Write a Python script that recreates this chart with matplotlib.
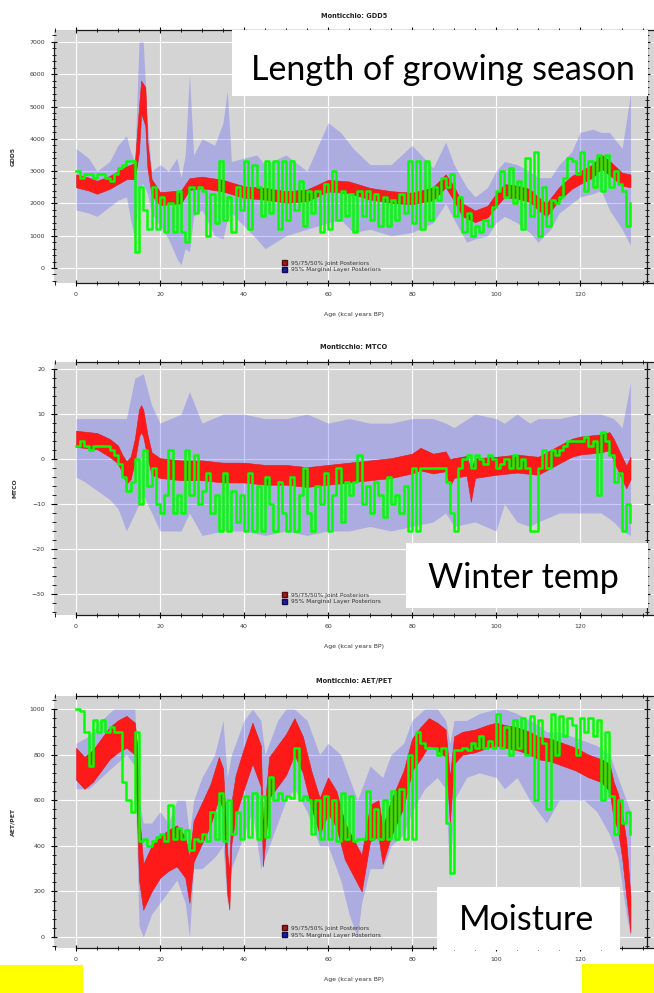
import numpy as np
import matplotlib
matplotlib.use("Agg")
import matplotlib.pyplot as plt
from matplotlib.patches import Rectangle, Patch
from matplotlib.ticker import MultipleLocator


# ---------------------------------------------------------
# GDD5 – growing degree days
# ---------------------------------------------------------
gdd_red_age = [0, 3, 5, 8, 10, 12, 14, 15, 15.5, 16.5,
               17, 18, 20, 25, 27, 30, 35, 40, 45, 50,
               55, 60, 65, 70, 75, 80, 85, 88, 90, 92,
               95, 98, 100, 102, 105, 108, 110, 112, 115, 118,
               120, 123, 125, 127, 130, 132]
gdd_red_mid = [2700, 2600, 2500, 2650, 2800, 2950, 3000, 4300, 5300, 5000,
               3500, 2500, 2150, 2200, 2600, 2650, 2550, 2350, 2300, 2200,
               2250, 2550, 2500, 2300, 2200, 2150, 2300, 2700, 2300, 1800,
               1600, 1750, 2100, 2400, 2350, 2250, 2000, 1800, 2300, 2650,
               2800, 3000, 3300, 3100, 2750, 2700]
gdd_red_hw = [200, 200, 200, 200, 200, 200, 250, 700, 500, 600,
              400, 250, 200, 200, 180, 180, 180, 180, 180, 180,
              180, 180, 180, 180, 180, 180, 200, 200, 220, 200,
              180, 180, 200, 200, 200, 200, 200, 200, 200, 200,
              200, 200, 220, 220, 200, 200]

gdd_blue_age = [0, 3, 5, 8, 10, 12, 13, 14, 15, 16,
                17, 18, 20, 22, 24, 25, 26, 27, 28, 30,
                33, 35, 36, 37, 40, 43, 45, 50, 55, 60,
                63, 66, 70, 75, 80, 85, 88, 90, 93, 95,
                98, 100, 102, 105, 108, 110, 113, 115, 118, 120,
                123, 125, 127, 130, 132]
gdd_blue_lo = [1800, 1700, 1600, 1900, 2100, 2200, 1500, 900, 2500, 2600,
               2300, 1700, 1300, 900, 300, 100, 600, 500, 1600, 1800,
               1000, 900, 1500, 1700, 1300, 900, 600, 1000, 1200, 1400,
               1500, 1100, 1200, 1000, 1100, 1400, 2000, 1500, 800, 900,
               1000, 1400, 1600, 1400, 1100, 800, 1200, 1700, 2000, 2200,
               2300, 2400, 1800, 1200, 700]
gdd_blue_hi = [3700, 3400, 3000, 3300, 3800, 4100, 3600, 3300, 7000, 7000,
               4500, 3000, 3200, 3000, 3400, 2800, 3500, 6000, 3500, 4000,
               3800, 4500, 5500, 3300, 3400, 3500, 3200, 3500, 3000, 4500,
               4200, 3700, 3200, 3200, 3800, 3100, 3900, 3200, 2500, 2200,
               2500, 3000, 3300, 3200, 3000, 2800, 2800, 3200, 3600, 4200,
               4300, 4200, 4200, 3700, 5400]

# pollen based reconstruction, one value per kyr (0..132)
gdd_green = [3000, 2800, 2900, 2900, 2800, 2900, 2900, 2800, 2700, 2900,
             3100, 3200, 3300, 3300, 500, 2500, 1800, 1200, 2500, 1200,
             2200, 1100, 2000, 1100, 2400, 1100, 800, 2500, 1700, 2500,
             2400, 1000, 2300, 1400, 3300, 1500, 2200, 1100, 2500, 1800,
             3300, 1200, 3200, 2500, 1600, 3300, 1700, 3300, 1200, 3300,
             1500, 3300, 1800, 2700, 1300, 2400, 1700, 2400, 1100, 2600,
             1200, 3000, 1500, 2400, 1600, 2300, 1100, 2400, 1600, 2400,
             1500, 2300, 1300, 2200, 1300, 2100, 1500, 2300, 1700, 3300,
             1400, 3300, 1200, 3300, 1500, 2500, 2100, 2800, 2500, 2900,
             1600, 2200, 1100, 1700, 1000, 1300, 1100, 1500, 1300, 1900,
             2400, 3000, 2200, 3100, 2000, 2700, 1200, 3400, 1600, 3600,
             1000, 2500, 1300, 2100, 2000, 2200, 2800, 3400, 3300, 2900,
             3600, 2400, 3300, 2500, 3500, 2400, 3500, 2500, 3000, 2600,
             2400, 1300, 2000]

# ---------------------------------------------------------
# MTCO – mean temperature of the coldest month
# ---------------------------------------------------------
mtco_red_age = [0, 5, 8, 10, 11, 12, 13, 14, 15, 15.5,
                16, 17, 18, 20, 25, 30, 35, 40, 45, 50,
                55, 60, 65, 70, 75, 80, 82, 85, 88, 89,
                90, 93, 94, 95, 100, 105, 110, 115, 118, 120,
                125, 127, 128, 130, 131, 132]
mtco_red_mid = [4.5, 4, 2.5, 1, -1, -3, -2, 2, 8, 9,
                8, 3, -1, -2, -2.5, -2.5, -3, -3, -3.5, -3.5,
                -4, -3.5, -3, -2.5, -2, -1, 0, -1, -0.5, -3,
                -2, -1.5, -6, -2, -1.5, -1, -1.5, 1, 2.5, 3,
                3.5, 4, 2, -2, -4, -2]
mtco_red_hw = [1.8, 1.8, 2, 2, 2, 2.5, 2.5, 2.5, 3, 3,
               3, 2.5, 2.5, 2.2, 2.2, 2.2, 2.2, 2.2, 2.2, 2.2,
               2.2, 2.2, 2.2, 2.2, 2.2, 2.2, 2.5, 2.2, 2.2, 3,
               2.2, 2.2, 3.5, 2.2, 2, 2, 2, 2, 2, 2,
               2, 2, 2.5, 2.5, 2.5, 2.5]

mtco_blue_age = [0, 2, 5, 8, 10, 12, 14, 16, 18, 20,
                 25, 27, 30, 35, 40, 45, 50, 55, 60, 65,
                 70, 75, 80, 85, 88, 90, 95, 100, 102, 105,
                 108, 110, 115, 120, 125, 128, 130, 132]
mtco_blue_lo = [-4, -5, -7, -9, -11, -16, -12, -8, -12, -16,
                -16, -12, -17, -16, -16, -17, -16, -17, -16, -16,
                -15, -16, -15, -14, -12, -15, -14, -16, -10, -14,
                -15, -14, -12, -12, -12, -14, -16, -17]
mtco_blue_hi = [9, 9, 9, 9, 9, 9, 18, 19, 12, 8,
                10, 15, 8, 10, 10, 9, 9, 10, 8, 9,
                8, 8, 9, 9, 8, 7, 10, 9, 8, 10,
                8, 9, 9, 10, 10, 9, 7, 17]

mtco_green = [3, 4, 3, 2, 3, 3, 3, 3, 2, 1,
              -1, -4, -7, -5, 0, -10, 2, -6, -2, -10,
              -12, -8, 2, -12, -8, -12, 2, -8, 1, -10,
              -7, -3, -12, -8, -16, -3, -16, -7, -14, -8,
              -16, -3, -16, -6, -16, -4, -10, -16, -5, -12,
              -16, -4, -16, -8, -2, -12, -16, -6, -10, -3,
              -16, -8, -2, -14, -5, -8, -5, 1, -10, -6,
              -12, -5, -8, -13, -4, -10, -8, -12, -6, -16,
              -2, -16, -2, -2, -2, -2, -2, -2, -5, -12,
              -16, -2, 0, 1, -2, 1, 0, -1, 1, 0,
              -2, -1, 0, -2, 1, -2, 0, -2, -16, -16,
              -2, 2, -2, 2, 1, 2, 3, 4, 4, 4,
              4, 5, 3, 4, -8, 6, 4, 1, -5, -3,
              -16, -10, -14]

# ---------------------------------------------------------
# AET/PET – moisture index (x1000)
# ---------------------------------------------------------
aet_red_age = [0, 2, 4, 6, 8, 10, 12, 14, 14.5, 15,
               16, 18, 20, 22, 24, 26, 27, 28, 30, 32,
               34, 35, 36, 36.5, 37, 38, 40, 42, 44, 44.5,
               45, 46, 48, 50, 52, 54, 56, 58, 60, 62,
               64, 66, 68, 70, 72, 73, 75, 78, 80, 82,
               84, 86, 88, 89, 90, 92, 95, 98, 100, 102,
               105, 108, 110, 113, 116, 119, 122, 125, 127, 128,
               129, 130, 131, 132]
aet_red_mid = [760, 720, 750, 800, 850, 880, 900, 870, 700, 400,
               220, 300, 350, 380, 400, 350, 250, 420, 500, 580,
               700, 650, 280, 200, 500, 620, 740, 850, 750, 400,
               500, 700, 750, 800, 880, 800, 650, 530, 620, 560,
               420, 350, 280, 500, 520, 400, 520, 650, 800, 850,
               900, 880, 850, 600, 820, 850, 860, 880, 890, 880,
               870, 850, 830, 820, 800, 780, 750, 730, 700, 600,
               550, 450, 300, 100]
aet_red_hw = [70, 70, 70, 70, 70, 70, 70, 70, 150, 150,
              100, 100, 90, 90, 90, 90, 100, 90, 90, 90,
              90, 90, 90, 80, 90, 90, 90, 90, 90, 90,
              90, 90, 90, 90, 80, 80, 80, 80, 80, 80,
              80, 80, 80, 80, 80, 80, 80, 80, 70, 70,
              60, 60, 60, 100, 60, 50, 50, 50, 50, 50,
              50, 50, 50, 50, 50, 50, 50, 50, 60, 80,
              80, 100, 120, 80]

aet_blue_age = [0, 3, 6, 9, 12, 14, 15, 16, 18, 20,
                22, 24, 26, 27, 28, 30, 33, 35, 36, 37,
                40, 42, 44, 45, 48, 50, 52, 55, 58, 60,
                63, 65, 67, 68, 70, 73, 75, 78, 80, 83,
                86, 88, 89, 90, 93, 96, 100, 102, 105, 108,
                110, 112, 115, 118, 121, 124, 127, 129, 131, 132]
aet_blue_lo = [650, 650, 700, 750, 800, 750, 50, 0, 100, 150,
               200, 250, 150, 0, 300, 300, 350, 400, 150, 300,
               450, 550, 300, 350, 500, 600, 650, 550, 400, 400,
               250, 100, 0, 150, 300, 300, 400, 450, 550, 650,
               700, 650, 250, 600, 700, 720, 700, 650, 700, 600,
               550, 500, 600, 600, 600, 550, 450, 350, 100, 0]
aet_blue_hi = [850, 880, 950, 1000, 1000, 1000, 600, 500, 500, 550,
               500, 600, 600, 450, 600, 700, 800, 950, 700, 800,
               950, 1000, 950, 800, 950, 1000, 1000, 950, 800, 850,
               800, 700, 600, 650, 750, 700, 800, 850, 950, 1000,
               1000, 950, 850, 950, 950, 980, 1000, 1000, 980, 950,
               930, 900, 900, 880, 860, 840, 800, 700, 600, 550]

aet_green = [1000, 990, 900, 750, 950, 900, 950, 900, 920, 900,
             900, 680, 600, 550, 900, 420, 430, 400, 420, 440,
             450, 420, 580, 430, 480, 430, 470, 380, 430, 420,
             450, 420, 550, 430, 630, 420, 600, 450, 550, 430,
             620, 440, 630, 430, 620, 440, 700, 600, 630, 600,
             620, 610, 830, 600, 620, 600, 450, 600, 430, 620,
             430, 600, 420, 630, 430, 620, 420, 430, 430, 640,
             430, 560, 430, 600, 430, 640, 430, 650, 430, 800,
             430, 900, 850, 830, 830, 830, 800, 830, 500, 280,
             820, 820, 830, 820, 850, 830, 880, 830, 860, 830,
             980, 830, 920, 800, 950, 830, 960, 800, 970, 600,
             950, 850, 560, 980, 800, 970, 880, 960, 930, 800,
             960, 900, 960, 880, 950, 600, 900, 620, 450, 600,
             500, 550, 450]

green_age = list(range(len(gdd_green)))

legend_labels = ["95/75/50% Joint Posteriors", "95% Marginal Layer Posteriors"]
xlabel = "Age (kcal years BP)"
XLIM = (-5.24, 137.6)


# ---------------------------------------------------------
# one panel: blue envelope, red band, green reconstruction
# ---------------------------------------------------------
def draw_panel(ax, title, ylabel, ylim, ymajor, yminor, ytop,
               red_age, red_mid, red_hw, blue_age, blue_lo, blue_hi, green):
    ax.set_facecolor("#d4d4d4")
    ax.set_xlim(*XLIM)
    ax.set_ylim(*ylim)

    ax.fill_between(blue_age, blue_lo, blue_hi, color="#5a5aff",
                    alpha=0.32, lw=0, zorder=2)
    mid = np.array(red_mid, dtype=float)
    hw = np.array(red_hw, dtype=float)
    ax.fill_between(red_age, mid - hw, mid + hw, color="#ff1a1a",
                    lw=0.4, edgecolor="#e01818", zorder=3)
    ax.step(green_age, green, where="post", color="#00ff00", lw=1.8, zorder=4)

    ax.grid(True, color="white", lw=0.8)
    ax.set_axisbelow(True)

    ax.xaxis.set_major_locator(MultipleLocator(20))
    ax.xaxis.set_minor_locator(MultipleLocator(5))
    ax.yaxis.set_major_locator(MultipleLocator(ymajor))
    ax.yaxis.set_minor_locator(MultipleLocator(yminor))
    ax.tick_params(which="major", direction="inout", length=5, width=0.8,
                   labelsize=4.5, labelcolor="#3a3a3a", pad=4,
                   top=True, right=True)
    ax.tick_params(which="minor", direction="inout", length=2.5, width=0.6,
                   top=True, right=True)

    for side in ("left", "right", "top", "bottom"):
        ax.spines[side].set_color("#1a1a1a")
        ax.spines[side].set_linewidth(0.9)
    ax.spines["left"].set_bounds(0, ytop)
    ax.spines["bottom"].set_bounds(0, XLIM[1])
    ax.spines["top"].set_bounds(0, XLIM[1])
    ax.spines["right"].set_position(("data", 135.9))

    ax.set_title(title, fontsize=4.8, fontweight="bold", color="#222", pad=9)
    ax.set_xlabel(xlabel, fontsize=4.4, color="#333", labelpad=11)
    ax.set_ylabel(ylabel, fontsize=4.4, fontweight="bold", color="#333",
                  labelpad=10)

    handles = [Patch(facecolor="#a01818", edgecolor="#5a0c0c"),
               Patch(facecolor="#1c1c9c", edgecolor="#0c0c5a")]
    leg = ax.legend(handles, legend_labels, loc="lower left",
                    bbox_to_anchor=(0.375, 0.03), frameon=False,
                    fontsize=4.2, handlelength=0.9, handleheight=0.9,
                    labelspacing=0.25, handletextpad=0.6, borderpad=0)
    for t in leg.get_texts():
        t.set_color("#333")


def add_note(fig, x0, y0, x1, y1, text, tx, ty):
    # white caption box placed in pixel coordinates from the top left
    W, H = 654, 993
    fig.add_artist(Rectangle((x0 / W, 1 - y1 / H), (x1 - x0) / W, (y1 - y0) / H,
                             transform=fig.transFigure, facecolor="white",
                             edgecolor="none", zorder=10))
    fig.text(tx / W, 1 - ty / H, text, fontsize=24.5, family="Lato",
             ha="center", va="baseline", color="black", zorder=11)


def add_block(fig, x0, y0, x1, y1, color):
    W, H = 654, 993
    fig.add_artist(Rectangle((x0 / W, 1 - y1 / H), (x1 - x0) / W, (y1 - y0) / H,
                             transform=fig.transFigure, facecolor=color,
                             edgecolor="none", zorder=10))


def main():
    fig = plt.figure(figsize=(6.54, 9.93), dpi=100)
    fig.patch.set_facecolor("white")

    W, H = 654, 993
    left, width = 54 / W, 600 / W
    ax1 = fig.add_axes([left, 1 - 283 / H, width, 253 / H])
    ax2 = fig.add_axes([left, 1 - 615 / H, width, 253 / H])
    ax3 = fig.add_axes([left, 1 - 948 / H, width, 252 / H])

    draw_panel(ax1, "Monticchio: GDD5", "GDD5", (-464, 7370), 1000, 200, 7000,
               gdd_red_age, gdd_red_mid, gdd_red_hw,
               gdd_blue_age, gdd_blue_lo, gdd_blue_hi, gdd_green)
    draw_panel(ax2, "Monticchio: MTCO", "MTCO", (-34.7, 21.6), 10, 2, 20,
               mtco_red_age, mtco_red_mid, mtco_red_hw,
               mtco_blue_age, mtco_blue_lo, mtco_blue_hi, mtco_green)
    draw_panel(ax3, "Monticchio: AET/PET", "AET/PET", (-48, 1057), 200, 40, 1000,
               aet_red_age, aet_red_mid, aet_red_hw,
               aet_blue_age, aet_blue_lo, aet_blue_hi, aet_green)

    add_note(fig, 232, 30, 648, 96, "Length of growing season", 443, 80)
    add_note(fig, 406, 543, 648, 608, "Winter temp", 523, 588)
    add_note(fig, 437, 887, 620, 950, "Moisture", 526, 930)

    add_block(fig, 0, 965, 83, 993, "#ffff00")
    add_block(fig, 582, 964, 654, 993, "#ffff00")

    fig.savefig("out.png", dpi=100)


if __name__ == "__main__":
    main()
